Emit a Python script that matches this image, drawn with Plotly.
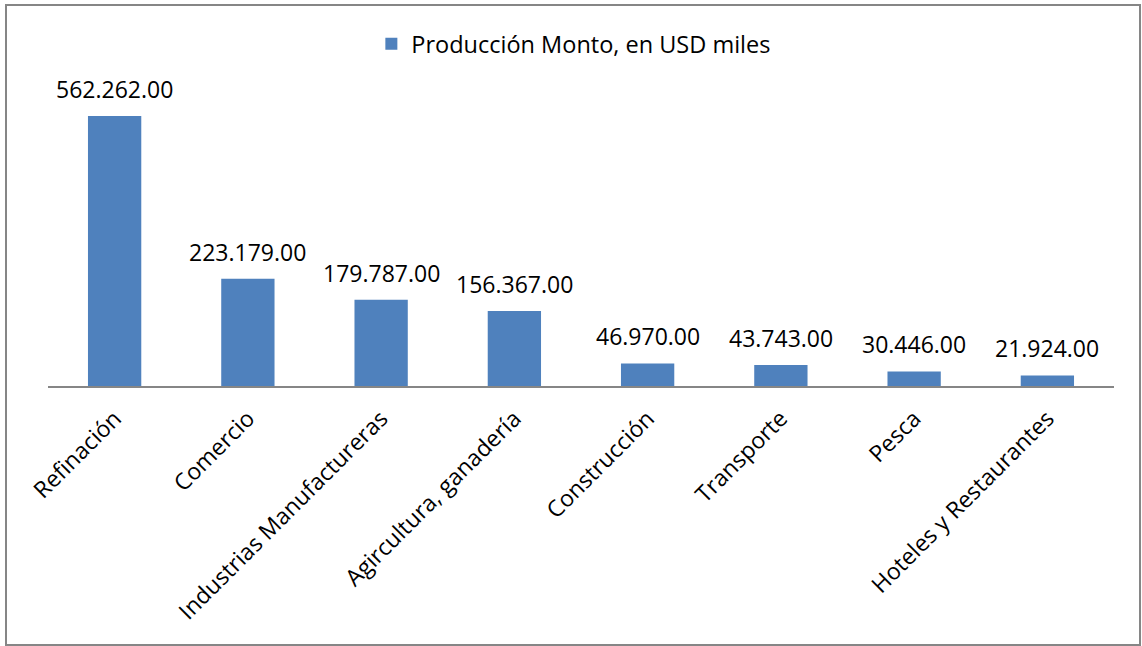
import plotly.graph_objects as go

# Producción por sector, en USD miles
sectores = [
    "Refinación",
    "Comercio",
    "Industrias Manufactureras",
    "Agircultura, ganadería",
    "Construcción",
    "Transporte",
    "Pesca",
    "Hoteles y Restaurantes",
]
montos = [562262, 223179, 179787, 156367, 46970, 43743, 30446, 21924]
serie = "Producción Monto, en USD miles"


def etiqueta(v):
    # thousands separated by "." followed by ".00"
    return f"{v:,.0f}".replace(",", ".") + ".00"


FONT = "Open Sans"
GRIS = "#868686"

fig = go.Figure(
    go.Bar(
        x=sectores,
        y=montos,
        name=serie,
        marker=dict(color="#4F81BD", line=dict(width=0)),
        cliponaxis=False,
        showlegend=True,
    )
)

# value labels above each bar
for s, v in zip(sectores, montos):
    fig.add_annotation(
        x=s,
        y=v,
        text=etiqueta(v),
        showarrow=False,
        yanchor="bottom",
        yshift=9,
        font=dict(family=FONT, size=23, color="#000000"),
    )

fig.update_layout(
    width=1142,
    height=646,
    margin=dict(l=48, r=28, t=98, b=260),
    paper_bgcolor="white",
    plot_bgcolor="white",
    bargap=0.6,
    font=dict(family=FONT, size=23, color="#000000"),
    legend=dict(
        orientation="h",
        x=0.4933,
        xanchor="center",
        y=1.1875,
        yanchor="middle",
        font=dict(family=FONT, size=23.5),
        itemwidth=30,
    ),
    xaxis=dict(
        showline=True,
        linecolor=GRIS,
        linewidth=2,
        ticks="",
        tickangle=-45,
        ticklabelstandoff=8,
        tickfont=dict(family=FONT, size=23),
        showgrid=False,
    ),
    yaxis=dict(
        range=[0, 600000],
        visible=False,
        showgrid=False,
    ),
    shapes=[
        dict(
            type="rect",
            xref="paper",
            yref="paper",
            x0=-0.0394,
            x1=1.0244,
            y0=-0.899,
            y1=1.3229,
            line=dict(color=GRIS, width=2),
            fillcolor="rgba(0,0,0,0)",
            layer="below",
        )
    ],
)

fig.write_html("out.html")
